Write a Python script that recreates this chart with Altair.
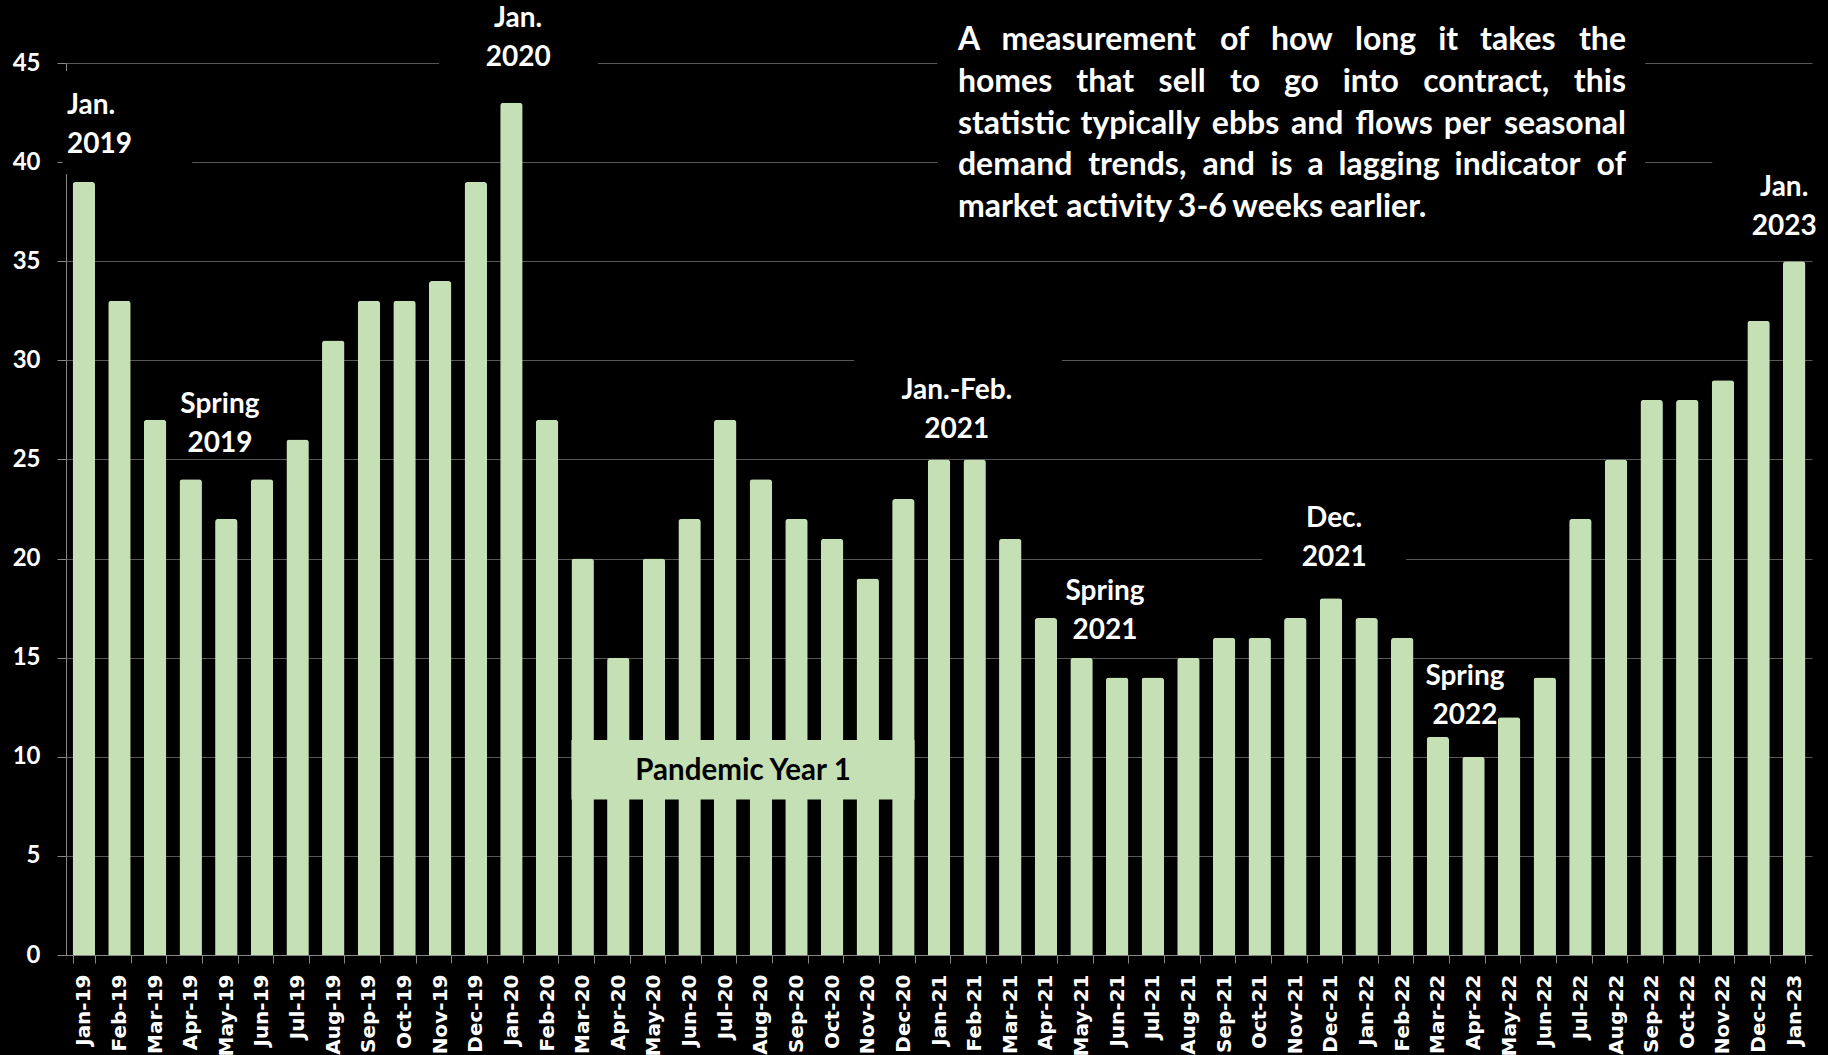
import altair as alt
import pandas as pd

# Days on market, monthly, Jan 2019 - Jan 2023
months = [
    "Jan-19", "Feb-19", "Mar-19", "Apr-19", "May-19", "Jun-19", "Jul-19", "Aug-19",
    "Sep-19", "Oct-19", "Nov-19", "Dec-19", "Jan-20", "Feb-20", "Mar-20", "Apr-20",
    "May-20", "Jun-20", "Jul-20", "Aug-20", "Sep-20", "Oct-20", "Nov-20", "Dec-20",
    "Jan-21", "Feb-21", "Mar-21", "Apr-21", "May-21", "Jun-21", "Jul-21", "Aug-21",
    "Sep-21", "Oct-21", "Nov-21", "Dec-21", "Jan-22", "Feb-22", "Mar-22", "Apr-22",
    "May-22", "Jun-22", "Jul-22", "Aug-22", "Sep-22", "Oct-22", "Nov-22", "Dec-22",
    "Jan-23",
]
days = [
    39, 33, 27, 24, 22, 24, 26, 31,
    33, 33, 34, 39, 43, 27, 20, 15,
    20, 22, 27, 24, 22, 21, 19, 23,
    25, 25, 21, 17, 15, 14, 14, 15,
    16, 16, 17, 18, 17, 16, 11, 10,
    12, 14, 22, 25, 28, 28, 29, 32,
    35,
]

# Callout labels: text, horizontal position (band units), first-line baseline (days)
label_texts = ["Spring\n2019", "Jan.\n2020", "Jan.-Feb.\n2021", "Spring\n2021",
               "Dec.\n2021", "Spring\n2022", "Jan.\n2023"]
label_u = [4.32, 12.69, 25.0, 29.16, 35.59, 39.26, 48.22]
label_v = [27.33, 46.80, 28.04, 17.90, 21.58, 13.62, 38.27]

first_label = ["Jan.\n2019"]
first_u = [0.03]
first_v = [42.41]

note_lines = [
    "A measurement of how long it takes the",
    "homes that sell to go into contract, this",
    "statistic typically ebbs and flows per seasonal",
    "demand trends, and is a lagging indicator of",
    "market activity 3-6 weeks earlier.",
]
note_left_u, note_right_u = 25.03, 43.78
note_top_v = 45.64

# Black text-box backgrounds behind the callouts (band units / days)
box_u1 = [-0.1, 10.47, 24.45, 22.12, 33.57, 46.2]
box_u2 = [3.54, 14.93, 44.32, 27.95, 37.61, 49.2]
box_v1 = [39.4, 43.6, 37.0, 25.7, 19.3, 36.6]
box_v2 = [44.6, 47.6, 47.2, 31.6, 23.2, 41.6]

pandemic_text = "Pandemic Year 1"
pandemic_from, pandemic_to = "Mar-20", "Dec-20"
pandemic_v1, pandemic_v2 = 7.85, 10.85

N = len(months)
PAD_INNER = 0.37
PLOT_W, PLOT_H = 1746, 892
Y_MAX = 45
GREEN = "#C5E0B4"
GRID = "#575757"
AXIS = "#868686"

NOTE_FONT = 32
NOTE_LEADING = 41.6

bars_df = pd.DataFrame({"month": months, "days": days})

u_scale = alt.Scale(domain=[0, N], nice=False, zero=False)
y_scale = alt.Scale(domain=[0, Y_MAX], nice=False)
y_axis = alt.Axis(
    title=None, values=list(range(0, 46, 5)), grid=True, gridColor=GRID,
    gridWidth=1, tickSize=9, tickColor=AXIS, domainColor=AXIS,
    labelFont="Lato", labelFontWeight="bold", labelFontSize=24,
    labelColor="white", labelPadding=17,
)


def ypos(field):
    return alt.Y(field, type="quantitative", scale=y_scale, axis=y_axis, title=None)


def upos(field):
    return alt.X(field, type="quantitative", scale=u_scale, axis=None)


bars = alt.Chart(bars_df).mark_bar(
    color=GREEN, cornerRadiusTopLeft=3, cornerRadiusTopRight=3,
).encode(
    x=alt.X(
        "month:N", sort=months,
        scale=alt.Scale(paddingInner=PAD_INNER, paddingOuter=PAD_INNER / 2),
        axis=alt.Axis(
            title=None, labelAngle=-90, labelAlign="right", labelBaseline="middle",
            labelFont="DejaVu Sans", labelFontWeight="bold", labelFontSize=20,
            labelColor="white", labelPadding=11, labelOverlap=False,
            tickBand="extent", tickSize=8, tickColor=AXIS, domainColor=AXIS,
            grid=False,
        ),
    ),
    y=ypos("days"),
)

boxes_df = pd.DataFrame({"u1": box_u1, "u2": box_u2, "v1": box_v1, "v2": box_v2})
boxes = alt.Chart(boxes_df).mark_rect(color="black").encode(
    x=upos("u1"), x2="u2", y=ypos("v1"), y2="v2",
)

# Pandemic band: from the left edge of the first bar to the right edge of the last
p_start = months.index(pandemic_from) + PAD_INNER / 2
p_end = months.index(pandemic_to) + 1 - PAD_INNER / 2
pandemic_df = pd.DataFrame({
    "u1": [p_start], "u2": [p_end], "v1": [pandemic_v1], "v2": [pandemic_v2],
    "uc": [(p_start + p_end) / 2], "vc": [(pandemic_v1 + pandemic_v2) / 2 - 0.05],
    "text": [pandemic_text],
})
pandemic_box = alt.Chart(pandemic_df).mark_rect(color=GREEN).encode(
    x=upos("u1"), x2="u2", y=ypos("v1"), y2="v2",
)
pandemic_label = alt.Chart(pandemic_df).mark_text(
    font="Lato", fontWeight="bold", fontSize=29.5, color="black",
    align="center", baseline="middle",
).encode(x=upos("uc"), y=ypos("vc"), text="text:N")

labels_df = pd.DataFrame({"text": label_texts, "u": label_u, "v": label_v})
labels = alt.Chart(labels_df).mark_text(
    font="Lato", fontWeight="bold", fontSize=28, color="white",
    align="center", baseline="alphabetic", lineBreak="\n", lineHeight=39,
).encode(x=upos("u"), y=ypos("v"), text="text:N")

first_df = pd.DataFrame({"text": first_label, "u": first_u, "v": first_v})
first = alt.Chart(first_df).mark_text(
    font="Lato", fontWeight="bold", fontSize=28, color="white",
    align="left", baseline="alphabetic", lineBreak="\n", lineHeight=39,
).encode(x=upos("u"), y=ypos("v"), text="text:N")

# Justified paragraph: words are spread so each full line fills the block width.
# Approximate Lato Bold advance widths (em) for the glyphs used.
GLYPH_EM = {
    "a": .513, "b": .575, "c": .470, "d": .575, "e": .537, "f": .345, "g": .520,
    "h": .575, "i": .257, "k": .540, "l": .257, "m": .835, "n": .575, "o": .570,
    "p": .570, "r": .395, "s": .437, "t": .370, "u": .575, "v": .530, "w": .800,
    "y": .530, "A": .680, ",": .220, ".": .220, "-": .350, "3": .580, "6": .580,
}
SPACE_EM = .193


def word_em(word):
    return sum(GLYPH_EM.get(ch, .55) for ch in word)


px_per_u = PLOT_W / N
px_per_v = PLOT_H / Y_MAX
block_px = (note_right_u - note_left_u) * px_per_u

left_rows, right_rows = [], []
for li, line in enumerate(note_lines):
    v = note_top_v - li * NOTE_LEADING / px_per_v
    words = line.split(" ")
    widths = [word_em(w) * NOTE_FONT for w in words]
    last_line = li == len(note_lines) - 1
    if last_line:
        gap = SPACE_EM * NOTE_FONT
    else:
        gap = (block_px - sum(widths)) / (len(words) - 1)
    x_px = 0.0
    for wi, (w, wpx) in enumerate(zip(words, widths)):
        if wi == len(words) - 1 and not last_line:
            right_rows.append({"text": w, "u": note_right_u, "v": v})
        else:
            left_rows.append({"text": w, "u": note_left_u + x_px / px_per_u, "v": v})
        x_px += wpx + gap

note_style = dict(font="Lato", fontWeight="bold", fontSize=NOTE_FONT, color="white",
                  baseline="alphabetic")
note_left = alt.Chart(pd.DataFrame(left_rows)).mark_text(
    align="left", **note_style
).encode(x=upos("u"), y=ypos("v"), text="text:N")
note_right = alt.Chart(pd.DataFrame(right_rows)).mark_text(
    align="right", **note_style
).encode(x=upos("u"), y=ypos("v"), text="text:N")

chart = alt.layer(
    bars, boxes, pandemic_box, pandemic_label, labels, first, note_left, note_right
).resolve_scale(
    x="independent"
).properties(
    width=PLOT_W, height=PLOT_H,
    padding={"left": 66, "top": 63, "right": 16, "bottom": 100},
    autosize=alt.AutoSizeParams(type="none"),
    background="black",
).configure_view(stroke=None)

chart.save("out.html", embed_options={"renderer": "svg", "actions": False})
